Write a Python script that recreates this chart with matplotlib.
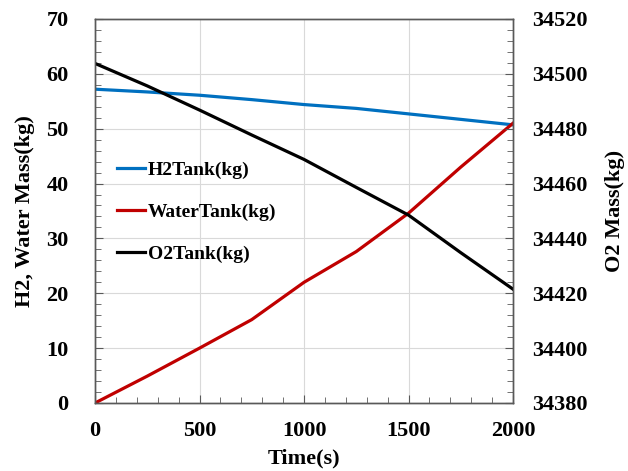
import matplotlib
matplotlib.use("Agg")
import matplotlib.pyplot as plt
from matplotlib.ticker import MultipleLocator

plt.rcParams['font.family'] = ['Liberation Serif', 'DejaVu Serif']
plt.rcParams['font.weight'] = 'bold'

time_s = [0, 250, 500, 750, 1000, 1250, 1500, 1750, 2000]
h2_tank = [57.2, 56.7, 56.1, 55.3, 54.4, 53.7, 52.7, 51.7, 50.7]
water_tank = [0.0, 4.9, 10.0, 15.2, 22.0, 27.6, 34.6, 43.0, 51.0]
o2_tank = [34503.8, 34495.6, 34486.8, 34477.7, 34468.8, 34458.6, 34448.5, 34434.8, 34421.5]

fig = plt.figure(figsize=(6.28, 4.71), dpi=100)
ax = fig.add_axes([0.1513, 0.1444, 0.6656, 0.8153])
ax2 = ax.twinx()

l1, = ax.plot(time_s, h2_tank, color='#0070C0', lw=2.3, label='H2Tank(kg)')
l2, = ax.plot(time_s, water_tank, color='#C00000', lw=2.3, label='WaterTank(kg)')
l3, = ax2.plot(time_s, o2_tank, color='black', lw=2.3, label='O2Tank(kg)')

ax.set_xlim(0, 2000)
ax.set_ylim(0, 70)
ax2.set_ylim(34380, 34520)

ax.xaxis.set_major_locator(MultipleLocator(500))
ax.xaxis.set_minor_locator(MultipleLocator(100))
ax.yaxis.set_major_locator(MultipleLocator(10))
ax.yaxis.set_minor_locator(MultipleLocator(2))
ax2.yaxis.set_major_locator(MultipleLocator(20))
ax2.yaxis.set_minor_locator(MultipleLocator(4))

ax.grid(True, which='major', color='#d9d9d9', lw=0.8)
ax.set_axisbelow(True)

for a in (ax, ax2):
    for s in a.spines.values():
        s.set_color('#595959')
        s.set_linewidth(1.0)
    a.tick_params(which='both', direction='in', color='#595959', labelsize=16)
    a.tick_params(which='major', length=6)
    a.tick_params(which='minor', length=4)

ax.tick_params(axis='y', which='both', pad=19)
ax.tick_params(axis='x', which='both', pad=13)
ax2.tick_params(axis='y', which='both', pad=14)

for lab in ax.get_xticklabels() + ax.get_yticklabels() + ax2.get_yticklabels():
    lab.set_fontweight('bold')

ax.set_xlabel('Time(s)', fontsize=16, fontweight='bold', labelpad=5)
ax.set_ylabel('H2, Water Mass(kg)', fontsize=16, fontweight='bold', labelpad=8)
ax2.set_ylabel('O2 Mass(kg)', fontsize=16, fontweight='bold', labelpad=12)

leg = ax.legend(handles=[l1, l2, l3], loc='upper left', bbox_to_anchor=(0.035, 0.65),
                frameon=False, prop={'weight': 'bold', 'size': 14},
                handlelength=1.4, handletextpad=0.15, labelspacing=1.25,
                borderaxespad=0.0)

fig.savefig('out.png', dpi=100)
